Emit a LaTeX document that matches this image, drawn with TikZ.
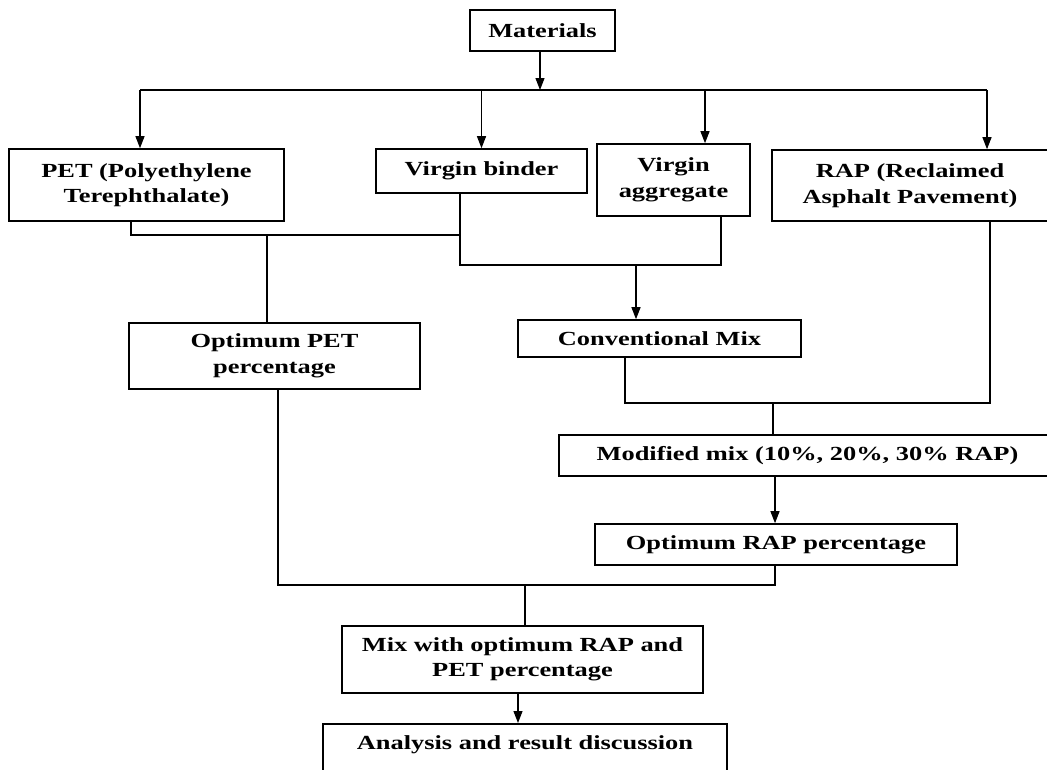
\documentclass[tikz,border=0pt]{standalone}
\usepackage{fontspec}
\setmainfont{Liberation Serif}[FakeStretch=1.32]
\usetikzlibrary{arrows.meta}
\newcommand\tiplength{12pt}
\newcommand\tipwidth{9pt}
\newcommand\boxfont{\fontsize{20}{25.5}\selectfont\bfseries}

\begin{document}
\begin{tikzpicture}[x=1pt,y=-1pt,
    box/.style={draw,line width=1.6pt,align=center,inner sep=0pt,font=\boxfont},
    link/.style={line width=1.1pt},
    feed/.style={link,-{Triangle[length=\tiplength,width=\tipwidth]}}]
  \path[use as bounding box,clip] (0,0) rectangle (1047,769);

  \node[box,minimum width=145pt,minimum height=41pt] (mat) at (542.5,30.5) {Materials};

  \node[box,minimum width=275pt,minimum height=72pt] (pet) at (146.5,185) {PET (Polyethylene\\Terephthalate)};
  \node[box,minimum width=211pt,minimum height=44pt] (vb) at (481.5,171) {Virgin binder};
  \node[box,minimum width=153pt,minimum height=72pt] (va) at (673.5,180) {Virgin\\aggregate};
  \node[box,minimum width=276pt,minimum height=71pt] (rap) at (910,185.5) {RAP (Reclaimed\\Asphalt Pavement)};

  \node[box,minimum width=291pt,minimum height=66pt] (optpet) at (274.5,356) {Optimum PET\\percentage};
  \node[box,minimum width=283pt,minimum height=37pt] (conv) at (659.5,338.5) {Conventional Mix};
  \node[box,minimum width=497pt,minimum height=41pt] (mod) at (807.5,455.5) {Modified mix (10\%, 20\%, 30\% RAP)};
  \node[box,minimum width=362pt,minimum height=41pt] (optrap) at (776,544.5) {Optimum RAP percentage};
  \node[box,minimum width=361pt,minimum height=67pt] (mix) at (522.5,659.5) {Mix with optimum RAP and\\PET percentage};
  \node[box,minimum width=404pt,text height=26pt,text depth=40pt,anchor=north] (ana) at (525,723) {Analysis and result discussion};

  % materials split into the four inputs
  \coordinate (split) at (540,90);
  \coordinate (busL) at (140,90);
  \coordinate (busR) at (987,90);
  \coordinate (vaIn) at (705,90);
  \draw[feed] (mat.south -| split) -- (split);
  \draw[link] (busL) -- (busR);
  \draw[feed] (busL) -- (busL |- pet.north);
  \draw[feed] (vb.north |- busL) -- (vb.north);
  \draw[feed] (vaIn) -- (vaIn |- va.north);
  \draw[feed] (busR) -- (busR |- rap.north);

  % PET, binder and aggregate
  \coordinate (petOut) at (131,235);
  \coordinate (vbOut) at (460,265);
  \coordinate (vaOut) at (721,265);
  \coordinate (petTap) at (267,235);
  \coordinate (convIn) at (636,265);
  \draw[link] (petOut |- pet.south) -- (petOut) -- (petOut -| vbOut);
  \draw[link] (vbOut |- vb.south) -- (vbOut) -- (vaOut) -- (vaOut |- va.south);
  \draw[link] (petTap) -- (petTap |- optpet.north);
  \draw[feed] (convIn) -- (convIn |- conv.north);

  % conventional mix with RAP
  \coordinate (convOut) at (625,403);
  \coordinate (rapOut) at (990,403);
  \coordinate (modIn) at (773,403);
  \draw[link] (convOut |- conv.south) -- (convOut) -- (rapOut) -- (rapOut |- rap.south);
  \draw[link] (modIn) -- (modIn |- mod.north);

  % optimum percentages to final mix
  \coordinate (rapDown) at (775,585);
  \coordinate (petDown) at (278,585);
  \coordinate (mixIn) at (525,585);
  \coordinate (anaIn) at (518,693);
  \draw[feed] (rapDown |- mod.south) -- (rapDown |- optrap.north);
  \draw[link] (petDown |- optpet.south) -- (petDown) -- (rapDown) -- (rapDown |- optrap.south);
  \draw[link] (mixIn) -- (mixIn |- mix.north);
  \draw[feed] (anaIn |- mix.south) -- (anaIn |- ana.north);
\end{tikzpicture}
\end{document}
